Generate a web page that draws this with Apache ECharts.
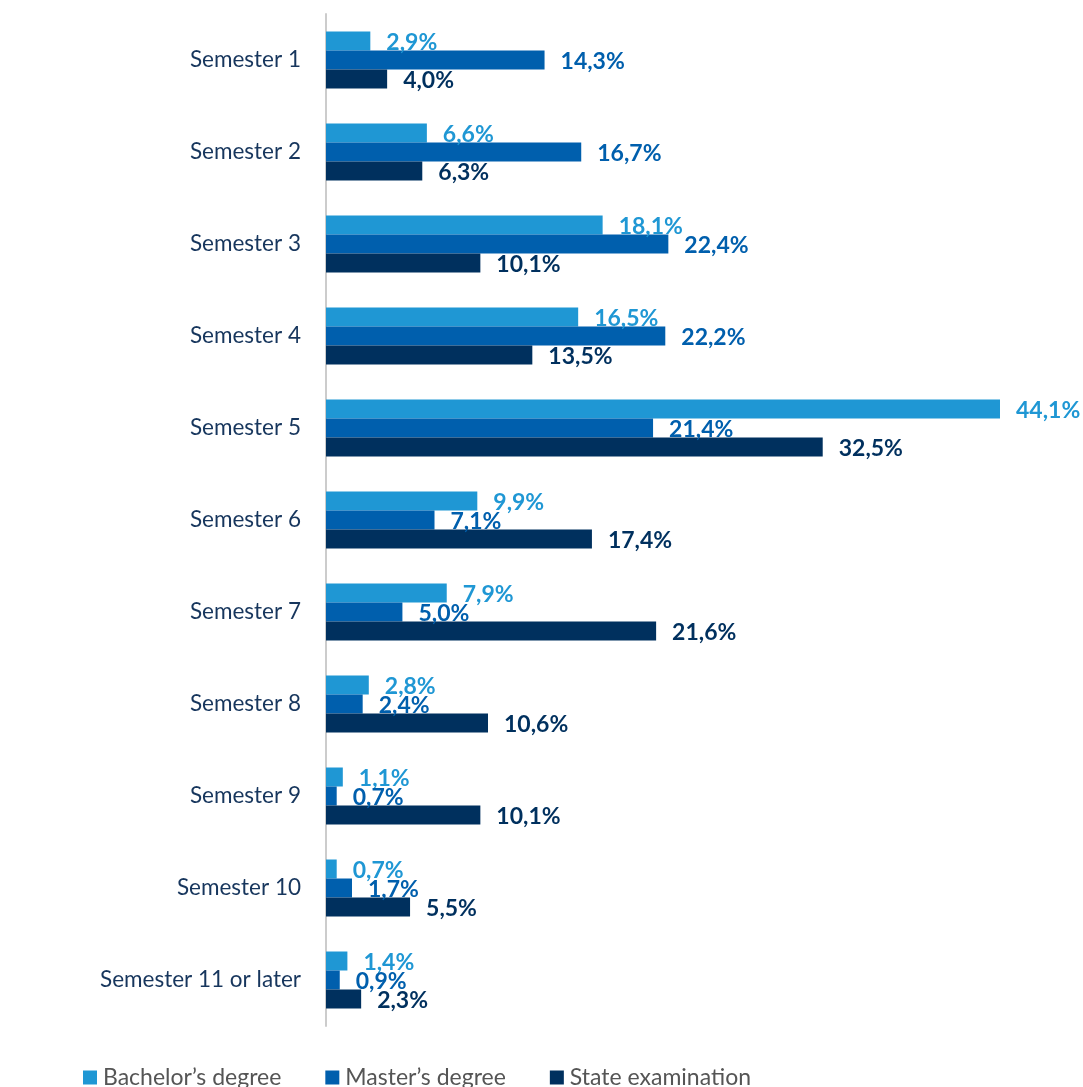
<!DOCTYPE html>
<html>
<head>
<meta charset="utf-8">
<script src="https://cdn.jsdelivr.net/npm/echarts@6/dist/echarts.min.js"></script>
<style>
  html, body { margin: 0; padding: 0; background: #fff; }
  #chart { width: 1083px; height: 1087px; }
</style>
</head>
<body>
<div id="chart"></div>
<script>
const categories = ['Semester 1', 'Semester 2', 'Semester 3', 'Semester 4', 'Semester 5', 'Semester 6',
  'Semester 7', 'Semester 8', 'Semester 9', 'Semester 10', 'Semester 11 or later']
const bachelor = [2.9, 6.6, 18.1, 16.5, 44.1, 9.9, 7.9, 2.8, 1.1, 0.7, 1.4]
const master = [14.3, 16.7, 22.4, 22.2, 21.4, 7.1, 5.0, 2.4, 0.7, 1.7, 0.9]
const stateExam = [4.0, 6.3, 10.1, 13.5, 32.5, 17.4, 21.6, 10.6, 10.1, 5.5, 2.3]
const seriesNames = ['Bachelor’s degree', 'Master’s degree', 'State examination']
const colors = ['#1f97d4', '#005fad', '#00305e']

const font = 'Lato, "Noto Sans", sans-serif'
const fmt = p => p.value.toFixed(1).replace('.', ',') + '%'

function makeSeries(name, data, color) {
  return {
    name: name,
    type: 'bar',
    data: data,
    barWidth: 19,
    barGap: '0%',
    itemStyle: { color: color },
    label: {
      show: true,
      position: 'right',
      distance: 16,
      formatter: fmt,
      color: color,
      fontFamily: font,
      fontWeight: 'bold',
      fontSize: 23,
      offset: [0, 2]
    }
  }
}

const chart = echarts.init(document.getElementById('chart'))
chart.setOption({
  animation: false,
  color: colors,
  grid: { left: 326, right: 83, top: 14, bottom: 61, containLabel: false },
  legend: {
    bottom: -2,
    left: 83,
    padding: 0,
    itemWidth: 14,
    itemHeight: 14,
    itemGap: 44,
    icon: 'rect',
    textStyle: { fontFamily: font, fontSize: 23, color: '#555', padding: [0, 0, 0, 1] },
    data: seriesNames
  },
  xAxis: {
    type: 'value',
    min: 0,
    max: 44.1,
    show: false
  },
  yAxis: {
    type: 'category',
    inverse: true,
    data: categories,
    axisLine: { show: true, lineStyle: { color: '#cccccc', width: 2 } },
    axisTick: { show: false },
    axisLabel: { margin: 25, fontFamily: font, fontSize: 22.5, color: '#17365d' }
  },
  series: [
    makeSeries(seriesNames[0], bachelor, colors[0]),
    makeSeries(seriesNames[1], master, colors[1]),
    makeSeries(seriesNames[2], stateExam, colors[2])
  ]
})
</script>
</body>
</html>
